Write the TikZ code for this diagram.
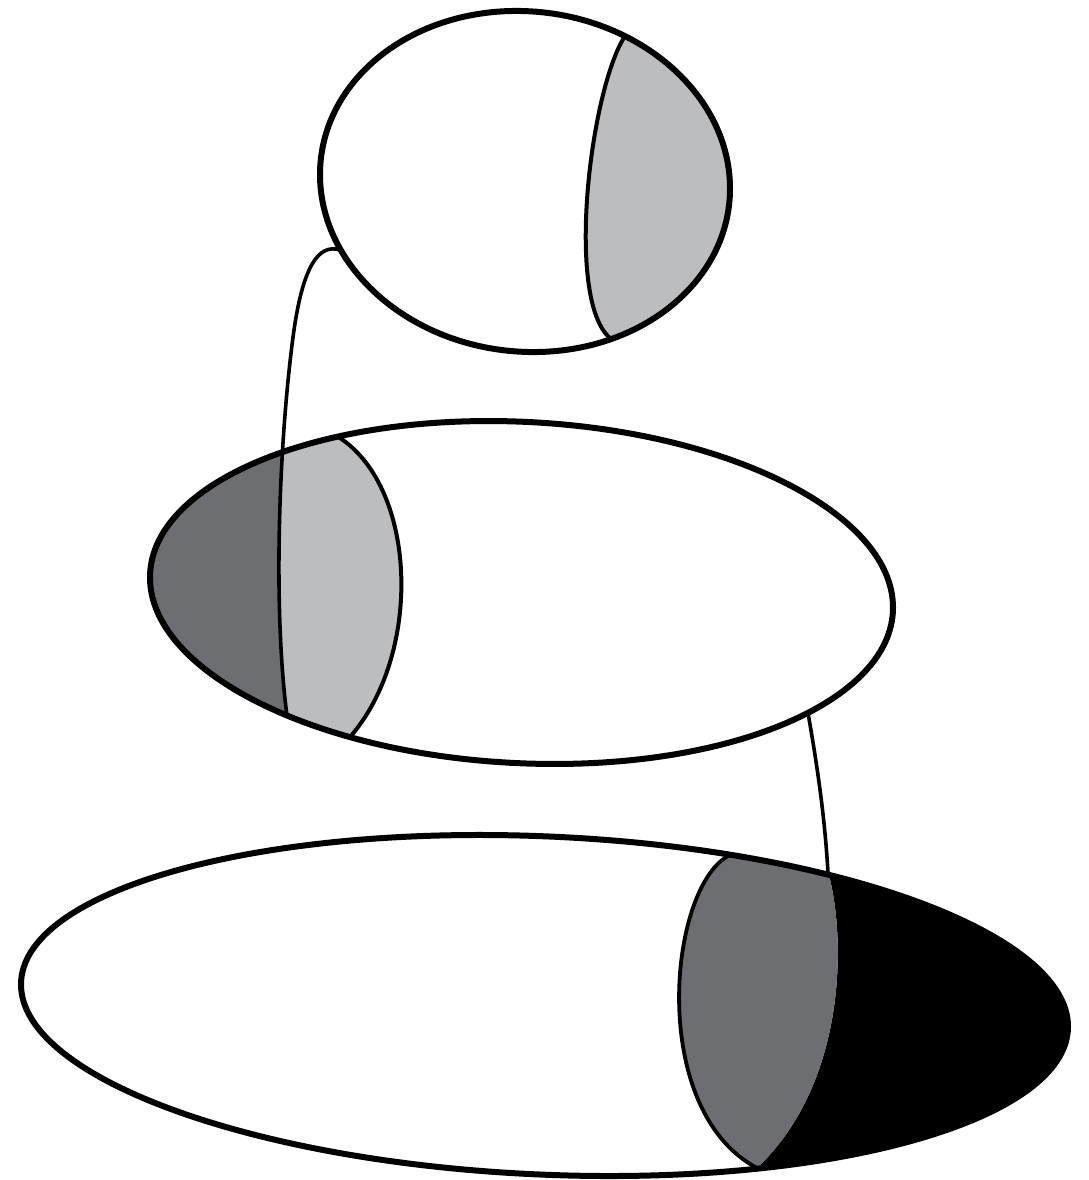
\documentclass[tikz,border=0pt]{standalone}
\definecolor{lgray}{HTML}{BCBDBF}
\definecolor{dgray}{HTML}{6D6E71}
\begin{document}
\begin{tikzpicture}[x=1pt,y=-1pt,
  outline/.style={line width=6pt},
  divider/.style={line width=4pt},
  conn/.style={line width=3.6pt},
  eA/.style={shift={(525,181.5)}, yslant=-0.034},
  eB/.style={shift={(521.5,592.5)}, yslant=-0.0404},
  eC/.style={shift={(544.5,1005.5)}, yslant=-0.0401}]
\useasboundingbox (0,0) rectangle (1088,1180);
% named points
\coordinate (c1s) at (340,250);
\coordinate (c1m) at (294,330);
\coordinate (c1e) at (287,716);
\coordinate (c2s) at (808,713);
\coordinate (c2e) at (828,873);

% ---------- top ellipse ----------
\fill[white, eA] (0,0) ellipse [x radius=205pt, y radius=170.4pt];
\begin{scope}
  \clip[eA] (0,0) ellipse [x radius=205pt, y radius=170.4pt];
  \fill[lgray] (610,338) .. controls (565,300) and (590,90) .. (625,36)
     -- (640,-10) -- (800,-10) -- (800,420) -- (615,420) -- cycle;
  \draw[divider] (628,20) -- (625,36) .. controls (590,90) and (565,300) .. (610,338) -- (614,360);
\end{scope}
\draw[outline, eA] (0,0) ellipse [x radius=205pt, y radius=170.4pt];

% ---------- middle ellipse ----------
\fill[white, eB] (0,0) ellipse [x radius=371.5pt, y radius=170.8pt];
\begin{scope}
  \clip[eB] (0,0) ellipse [x radius=371.5pt, y radius=170.8pt];
  \fill[lgray] (330,400) -- (340,438) .. controls (418,490) and (422,655) .. (350,737)
     -- (340,800) -- (100,800) -- (100,400) -- cycle;
  \fill[dgray] (c1m) .. controls (280,430) and (272,600) .. (c1e)
     -- (290,800) -- (100,800) -- (100,330) -- cycle;
  \draw[divider] (330,420) -- (340,438) .. controls (418,490) and (422,655) .. (350,737) -- (340,760);
\end{scope}
\draw[outline, eB] (0,0) ellipse [x radius=371.5pt, y radius=170.8pt];

% connector 1
\draw[conn] (c1s) .. controls (318,243) and (303,268) .. (c1m)
   .. controls (280,430) and (272,600) .. (c1e);

% ---------- bottom ellipse ----------
\fill[white, eC] (0,0) ellipse [x radius=523.5pt, y radius=169.2pt];
\begin{scope}
  \clip[eC] (0,0) ellipse [x radius=523.5pt, y radius=169.2pt];
  \fill[black] (828,872) .. controls (845,930) and (850,1080) .. (757,1168)
     -- (750,1250) -- (1200,1250) -- (1200,800) -- (828,800) -- cycle;
  \fill[dgray] (728,856) .. controls (668,890) and (648,1110) .. (757,1168)
     .. controls (850,1080) and (845,930) .. (828,872) -- (828,800) -- (728,800) -- cycle;
  \draw[divider, line width=3.8pt] (728,856) .. controls (668,890) and (648,1110) .. (757,1168);
\end{scope}
\draw[outline, eC] (0,0) ellipse [x radius=523.5pt, y radius=169.2pt];

% connector 2
\draw[conn] (c2s) .. controls (818,770) and (825,820) .. (c2e);
\end{tikzpicture}
\end{document}
